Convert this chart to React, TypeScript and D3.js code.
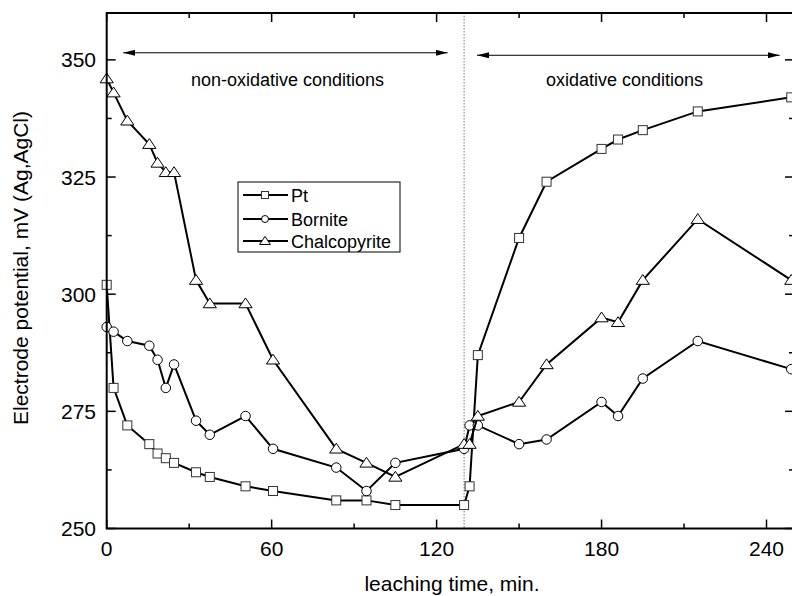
import React from 'react';
import * as d3 from 'd3';

const times = [0, 2.5, 7.5, 15.5, 18.5, 21.5, 24.5, 32.5, 37.5, 50.5, 60.5, 83.5, 94.5, 105, 130, 132, 135, 150, 160, 180, 186, 195, 215, 249];
const ptValues = [302, 280, 272, 268, 266, 265, 264, 262, 261, 259, 258, 256, 256, 255, 255, 259, 287, 312, 324, 331, 333, 335, 339, 342];
const borniteValues = [293, 292, 290, 289, 286, 280, 285, 273, 270, 274, 267, 263, 258, 264, 267, 272, 272, 268, 269, 277, 274, 282, 290, 284];
const chalcopyriteValues = [346, 343, 337, 332, 328, 326, 326, 303, 298, 298, 286, 267, 264, 261, 268, 268, 274, 277, 285, 295, 294, 303, 316, 303];
const seriesNames = ['Pt', 'Bornite', 'Chalcopyrite'];
const seriesShapes = ['square', 'circle', 'triangle'];
const xTicks = [0, 60, 120, 180, 240];
const xMinorTicks = [30, 90, 150, 210];
const yTicks = [250, 275, 300, 325, 350];
const yMinorTicks = [262.5, 287.5, 312.5, 337.5];
const switchTime = 130;
const leftArrow = [6, 124];
const rightArrow = [134.7, 244.8];
const arrowLevel = 351.3;

function Marker({ shape, cx, cy, s }: { shape: string; cx: number; cy: number; s: number }) {
  if (shape === 'square') {
    return <rect x={cx - s / 2} y={cy - s / 2} width={s} height={s} fill="#fff" stroke="#333" strokeWidth={1} />;
  }
  if (shape === 'circle') {
    return <circle cx={cx} cy={cy} r={s / 2} fill="#fff" stroke="#000" strokeWidth={1} />;
  }
  const h = s * 0.85;
  return (
    <path
      d={`M${cx},${cy - h * 0.6}L${cx - s * 0.6},${cy + h * 0.45}L${cx + s * 0.6},${cy + h * 0.45}Z`}
      fill="#fff"
      stroke="#000"
      strokeWidth={1}
    />
  );
}

export default function App() {
  const W = 792;
  const H = 596;
  const x = d3.scaleLinear().domain([0, 250]).range([106.7, 794]);
  const y = d3.scaleLinear().domain([250, 360]).range([528.5, 13]);
  const x0 = x(0);
  const x1 = x(250);
  const y0 = y(250);
  const y1 = y(360);
  const font = 'Liberation Sans, Arial, Helvetica, sans-serif';
  const allSeries = [ptValues, borniteValues, chalcopyriteValues];
  const line = d3
    .line<number>()
    .x((_, i) => x(times[i]))
    .y((d) => y(d));

  const ay = y(arrowLevel);
  const legendX = 238;
  const legendY = 182;
  const legendRows = [195, 219, 241];

  return (
    <svg
      width={W}
      height={H}
      style={{ position: 'fixed', left: 0, top: 0, background: '#fff' }}
      fontFamily={font}
    >
      <rect x={0} y={0} width={W} height={H} fill="#fff" />
      {/* dotted switch line */}
      <line x1={x(switchTime)} x2={x(switchTime)} y1={y1} y2={y0} stroke="#777" strokeWidth={1} strokeDasharray="1.5,1.5" />

      {/* series */}
      {allSeries.map((vals, si) => (
        <g key={si}>
          <path d={line(vals) || ''} fill="none" stroke="#000" strokeWidth={2} />
          {vals.map((v, i) => (
            <Marker key={i} shape={seriesShapes[si]} cx={x(times[i])} cy={y(v)} s={si === 0 ? 9 : si === 1 ? 9.5 : 11} />
          ))}
        </g>
      ))}

      {/* frame */}
      <rect x={x0} y={y1} width={x1 - x0} height={y0 - y1} fill="none" stroke="#000" strokeWidth={2} />

      {/* x ticks */}
      {xTicks.map((t) => (
        <g key={'xt' + t}>
          <line x1={x(t)} x2={x(t)} y1={y0} y2={y0 - 9} stroke="#000" strokeWidth={1.5} />
          <line x1={x(t)} x2={x(t)} y1={y1} y2={y1 + 9} stroke="#000" strokeWidth={1.5} />
          <text x={x(t)} y={556} textAnchor="middle" fontSize={21} fill="#000">
            {t}
          </text>
        </g>
      ))}
      {xMinorTicks.map((t) => (
        <g key={'xm' + t}>
          <line x1={x(t)} x2={x(t)} y1={y0} y2={y0 - 5} stroke="#000" strokeWidth={1.5} />
          <line x1={x(t)} x2={x(t)} y1={y1} y2={y1 + 5} stroke="#000" strokeWidth={1.5} />
        </g>
      ))}
      {/* y ticks */}
      {yTicks.map((t) => (
        <g key={'yt' + t}>
          <line x1={x0} x2={x0 + 9} y1={y(t)} y2={y(t)} stroke="#000" strokeWidth={1.5} />
          <line x1={x1} x2={x1 - 9} y1={y(t)} y2={y(t)} stroke="#000" strokeWidth={1.5} />
          <text x={96} y={y(t) + 7.5} textAnchor="end" fontSize={21} fill="#000">
            {t}
          </text>
        </g>
      ))}
      {yMinorTicks.map((t) => (
        <g key={'ym' + t}>
          <line x1={x0} x2={x0 + 5} y1={y(t)} y2={y(t)} stroke="#000" strokeWidth={1.5} />
          <line x1={x1} x2={x1 - 5} y1={y(t)} y2={y(t)} stroke="#000" strokeWidth={1.5} />
        </g>
      ))}

      {/* axis titles */}
      <text x={452} y={591} textAnchor="middle" fontSize={21} fill="#000">
        leaching time, min.
      </text>
      <text transform={`translate(28,268) rotate(-90)`} textAnchor="middle" fontSize={21} fill="#000">
        Electrode potential, mV (Ag,AgCl)
      </text>

      {/* arrows */}
      <defs>
        <marker id="ah" viewBox="0 0 12 6" refX={12} refY={3} markerWidth={12} markerHeight={6} markerUnits="userSpaceOnUse" orient="auto-start-reverse">
          <path d="M0,0L12,3L0,6Z" fill="#000" />
        </marker>
      </defs>
      <line x1={x(leftArrow[0])} x2={x(leftArrow[1])} y1={ay - 1} y2={ay - 1} stroke="#000" strokeWidth={1} markerStart="url(#ah)" markerEnd="url(#ah)" />
      <line x1={x(rightArrow[0])} x2={x(rightArrow[1])} y1={ay + 1.5} y2={ay + 1.5} stroke="#000" strokeWidth={1} markerStart="url(#ah)" markerEnd="url(#ah)" />
      <text x={287.5} y={86} textAnchor="middle" fontSize={18} fill="#000">
        non-oxidative conditions
      </text>
      <text x={624.5} y={86} textAnchor="middle" fontSize={18} fill="#000">
        oxidative conditions
      </text>

      {/* legend */}
      <rect x={legendX} y={legendY} width={162} height={70} fill="#fff" stroke="#000" strokeWidth={1} />
      {seriesNames.map((n, i) => (
        <g key={n}>
          <line x1={243} x2={288} y1={legendRows[i]} y2={legendRows[i]} stroke="#000" strokeWidth={2} />
          <Marker shape={seriesShapes[i]} cx={265} cy={legendRows[i]} s={i === 2 ? 9 : 7} />
          <text x={291} y={legendRows[i] + 6.5} fontSize={18} fill="#000">
            {n}
          </text>
        </g>
      ))}
    </svg>
  );
}
